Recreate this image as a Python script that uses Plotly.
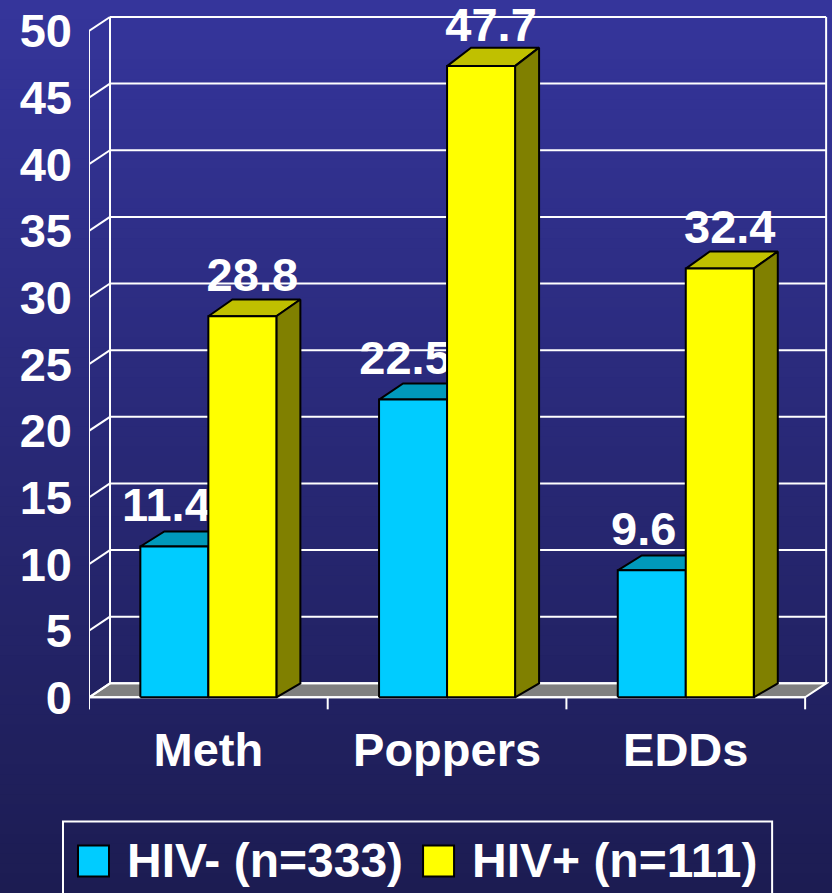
import plotly.graph_objects as go

# ---------------- data ----------------
categories = ["Meth", "Poppers", "EDDs"]
series_names = ["HIV- (n=333)", "HIV+ (n=111)"]
hiv_neg = [11.4, 22.5, 9.6]
hiv_pos = [28.8, 47.7, 32.4]
y_tick_values = [0, 5, 10, 15, 20, 25, 30, 35, 40, 45, 50]
series_values = [hiv_neg, hiv_pos]

# ---------------- style / geometry ----------------
W, H = 832, 893
FONT = "Liberation Sans, Arial, Helvetica, sans-serif"
FS = 47
PXX = 716 / 3.0          # px per category unit
PXY = 13.32              # px per value unit
X_RANGE = [-0.5, 2.6]
Y_RANGE = [-2.0, 51.2]
ML = 89
PW = (X_RANGE[1] - X_RANGE[0]) * PXX
PH = (Y_RANGE[1] - Y_RANGE[0]) * PXY
MT = 697 - Y_RANGE[1] * PXY
MR = W - ML - PW
MB = H - MT - PH
PLOT_BOTTOM_PX = MT + PH

DXW = 21 / PXX            # wall depth (x units)
DYW = 14 / PXY            # wall depth (y units)
DXB = 24 / PXX            # bar depth (x units)
BAR_W = 68 / PXX
FRONT_K = 0.993           # slight perspective on bar fronts
LABEL_DX = [-8 / PXX, 10 / PXX]
LABEL_DY = 37 / PXY

front_colors = ["#00CCFF", "#FFFF00"]
top_colors = ["#0099BB", "#C0C000"]
side_colors = ["#007A99", "#808000"]
GRID = "#FFFFFF"


def pxx(px):
    return (px - ML) / PW


def pxy(py):
    return (PLOT_BOTTOM_PX - py) / PH


fig = go.Figure()
shapes = []

# background gradient (decoration)
top_rgb = (53, 53, 155)
bot_rgb = (28, 28, 82)
n_bands = 90
for b in range(n_bands):
    t = b / (n_bands - 1)
    c = tuple(int(round(top_rgb[k] + (bot_rgb[k] - top_rgb[k]) * t)) for k in range(3))
    y0 = b * H / n_bands
    y1 = (b + 1) * H / n_bands + 1
    shapes.append(dict(type="rect", xref="paper", yref="paper", layer="below",
                       x0=pxx(-2), x1=pxx(W + 2), y0=pxy(y1), y1=pxy(y0),
                       fillcolor="rgb(%d,%d,%d)" % c, line=dict(width=0)))

# floor
xl, xr = X_RANGE[0], X_RANGE[0] + 3
shapes.append(dict(type="path", xref="x", yref="y", layer="below",
                   path="M %f,0 L %f,0 L %f,%f L %f,%f Z" % (xl, xr, xr + DXW, DYW, xl + DXW, DYW),
                   fillcolor="#808080", line=dict(color=GRID, width=2)))

# back wall grid + left diagonals
for v in y_tick_values:
    shapes.append(dict(type="line", xref="x", yref="y", layer="below",
                       x0=xl + DXW, x1=xr + DXW, y0=v + DYW, y1=v + DYW,
                       line=dict(color=GRID, width=2)))
    shapes.append(dict(type="line", xref="x", yref="y", layer="below",
                       x0=xl, x1=xl + DXW, y0=v, y1=v + DYW,
                       line=dict(color=GRID, width=2)))
vmax = y_tick_values[-1]
# wall edges
shapes.append(dict(type="line", xref="x", yref="y", layer="below",
                   x0=xl + DXW, x1=xl + DXW, y0=DYW, y1=vmax + DYW, line=dict(color=GRID, width=2)))
shapes.append(dict(type="line", xref="x", yref="y", layer="below",
                   x0=xr + DXW, x1=xr + DXW, y0=DYW, y1=vmax + DYW, line=dict(color=GRID, width=2)))
# front-left axis
tick_len = 12 / PXY
shapes.append(dict(type="line", xref="x", yref="y", layer="below",
                   x0=xl, x1=xl, y0=-tick_len, y1=vmax, line=dict(color=GRID, width=2)))
# front bottom axis + category ticks
shapes.append(dict(type="line", xref="x", yref="y", layer="below",
                   x0=xl, x1=xr, y0=0, y1=0, line=dict(color=GRID, width=2)))
for i in range(len(categories) + 1):
    xt = xl + i
    shapes.append(dict(type="line", xref="x", yref="y", layer="below",
                       x0=xt, x1=xt, y0=0, y1=-tick_len, line=dict(color=GRID, width=2)))

# bars (oblique 3-D faces), drawn back-to-front per series
for s, vals in enumerate(series_values):
    tops_x, tops_y, sides_x, sides_y, fr_x, fr_y = [], [], [], [], [], []
    lab_x, lab_y, lab_t = [], [], []
    for i, v in enumerate(vals):
        x0 = i - BAR_W + s * BAR_W
        x1 = x0 + BAR_W
        ft = FRONT_K * v
        bt = v + DYW
        tops_x += [x0, x1, x1 + DXB, x0 + DXB, x0, None]
        tops_y += [ft, ft, bt, bt, ft, None]
        sides_x += [x1, x1 + DXB, x1 + DXB, x1, x1, None]
        sides_y += [0, DYW, bt, ft, 0, None]
        fr_x += [x0, x1, x1, x0, x0, None]
        fr_y += [0, 0, ft, ft, 0, None]
        lab_x.append((x0 + x1) / 2 + LABEL_DX[s])
        lab_y.append(ft + LABEL_DY)
        lab_t.append("%.1f" % v)
    for xs, ys, col in [(tops_x, tops_y, top_colors[s]),
                        (sides_x, sides_y, side_colors[s]),
                        (fr_x, fr_y, front_colors[s])]:
        fig.add_trace(go.Scatter(x=xs, y=ys, mode="lines", fill="toself",
                                 fillcolor=col, line=dict(color="black", width=2),
                                 hoverinfo="skip", showlegend=False))
    fig.add_trace(go.Scatter(x=lab_x, y=lab_y, mode="text", text=lab_t,
                             textposition="middle center", cliponaxis=False,
                             textfont=dict(family=FONT, size=FS, color="white", weight="bold"),
                             hoverinfo="skip", showlegend=False))

# manual legend box
annotations = []
shapes.append(dict(type="rect", xref="paper", yref="paper", layer="above",
                   x0=pxx(63), x1=pxx(772), y0=pxy(905), y1=pxy(821),
                   fillcolor="rgba(0,0,0,0)", line=dict(color="white", width=2)))
legend_items = [(78, 125), (423, 470)]
for s, (sx, tx) in enumerate(legend_items):
    shapes.append(dict(type="rect", xref="paper", yref="paper", layer="above",
                       x0=pxx(sx), x1=pxx(sx + 31), y0=pxy(876), y1=pxy(845),
                       fillcolor=front_colors[s], line=dict(color="black", width=2)))
    annotations.append(dict(xref="paper", yref="paper", x=pxx(tx), y=pxy(860),
                            xanchor="left", yanchor="middle", showarrow=False,
                            text=series_names[s],
                            font=dict(family=FONT, size=48, color="white", weight="bold")))

fig.update_layout(
    width=W, height=H, autosize=False,
    margin=dict(l=ML, r=MR, t=MT, b=MB, pad=0),
    paper_bgcolor="#26266E", plot_bgcolor="rgba(0,0,0,0)",
    shapes=shapes, annotations=annotations, showlegend=False,
    xaxis=dict(range=X_RANGE, showgrid=False, zeroline=False, showline=False,
               tickmode="array", tickvals=list(range(len(categories))), ticktext=categories,
               ticks="", ticklabelstandoff=-6,
               tickfont=dict(family=FONT, size=FS, color="white", weight="bold"),
               fixedrange=True),
    yaxis=dict(range=Y_RANGE, showgrid=False, zeroline=False, showline=False,
               tickmode="array", tickvals=y_tick_values, ticktext=[str(v) for v in y_tick_values],
               ticks="", ticklabelstandoff=16,
               tickfont=dict(family=FONT, size=FS, color="white", weight="bold"),
               fixedrange=True),
)

fig.write_html("out.html", config={"displayModeBar": False},
               post_script="document.body.style.margin='0px';document.body.style.overflow='hidden';")
